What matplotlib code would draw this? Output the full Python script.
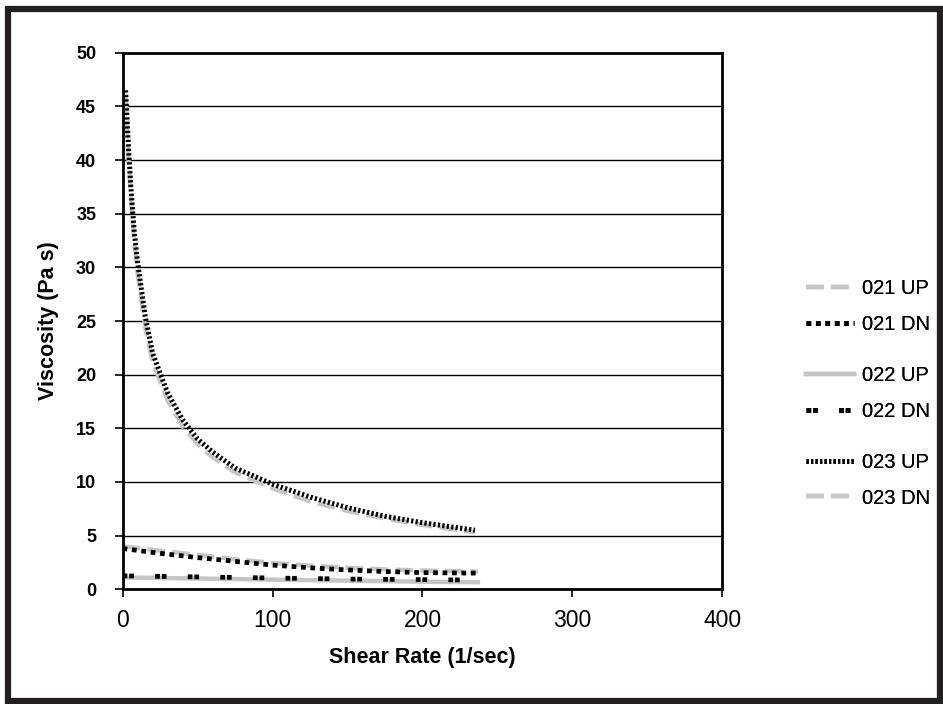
import matplotlib
matplotlib.use("Agg")
import matplotlib.pyplot as plt
from matplotlib.patches import Rectangle

plt.rcParams["font.family"] = ["Liberation Sans", "DejaVu Sans"]

# shear rate (1/sec) and viscosity (Pa s)
x023 = [2, 4, 6, 8, 10, 15, 20, 30, 40, 50, 60, 75, 100, 125, 150, 175, 200, 235]
up023 = [46.5, 41.0, 36.5, 33.0, 30.5, 25.5, 22.0, 18.3, 15.8, 14.0, 12.8, 11.3, 9.8, 8.6, 7.6, 6.8, 6.2, 5.5]
dn023 = [46.0, 40.0, 35.5, 32.0, 29.5, 24.5, 21.2, 17.6, 15.2, 13.5, 12.3, 10.9, 9.4, 8.2, 7.3, 6.6, 6.0, 5.3]

x021 = [0, 25, 50, 75, 100, 125, 150, 175, 200, 237]
up021 = [4.0, 3.6, 3.2, 2.8, 2.45, 2.2, 2.0, 1.85, 1.75, 1.65]
dn021 = [3.8, 3.35, 2.95, 2.6, 2.25, 2.0, 1.8, 1.65, 1.55, 1.5]

x022 = [0, 50, 100, 150, 200, 237]
up022 = [1.1, 1.0, 0.9, 0.8, 0.7, 0.65]
dn022 = [1.25, 1.15, 1.05, 0.95, 0.9, 0.85]

xticks = [0, 100, 200, 300, 400]
yticks = [0, 5, 10, 15, 20, 25, 30, 35, 40, 45, 50]

fig = plt.figure(figsize=(9.43, 7.04), dpi=100)
fig.patch.set_facecolor("white")
ax = fig.add_axes([0.130, 0.163, 0.636, 0.762])

grey = "#c4c7c9"
l21u, = ax.plot(x021, up021, color=grey, lw=3.2, ls=(0, (4, 1.6)))
l21d, = ax.plot(x021, dn021, color="black", lw=3.4, ls=(0, (1, 1)))
l22u, = ax.plot(x022, up022, color=grey, lw=3.2, ls="-")
l22d, = ax.plot(x022, dn022, color="black", lw=3.4, ls=(0, (1, 0.4, 1, 4.5)))
l23d, = ax.plot(x023, dn023, color=grey, lw=3.2, ls=(0, (4, 1.6)))
l23u, = ax.plot(x023, up023, color="black", lw=3.6, ls=(0, (0.45, 0.45)))

ax.set_xlim(0, 400)
ax.set_ylim(0, 50)
ax.set_xticks(xticks)
ax.set_yticks(yticks)
ax.yaxis.grid(True, color="black", lw=1.0)
ax.set_axisbelow(True)
for s in ax.spines.values():
    s.set_linewidth(2.0)
ax.tick_params(axis="y", direction="out", length=6, width=1.2, pad=13, labelsize=13)
ax.tick_params(axis="x", direction="out", length=6, width=1.2, pad=8, labelsize=16.5)
for t in ax.get_yticklabels():
    t.set_fontweight("bold")

ax.set_xlabel("Shear Rate (1/sec)", fontsize=15.5, fontweight="bold", labelpad=11)
ax.set_ylabel("Viscosity (Pa s)", fontsize=15.5, fontweight="bold", labelpad=12)

# three small legends stacked on the right
groups = [((l21u, l21d), ("021 UP", "021 DN"), 0.5646),
          ((l22u, l22d), ("022 UP", "022 DN"), 0.441),
          ((l23u, l23d), ("023 UP", "023 DN"), 0.3175)]
for hs, labs, yc in groups:
    leg = fig.legend(hs, labs, loc="center left", bbox_to_anchor=(0.855, yc), frameon=False,
                     fontsize=14.5, handlelength=2.35, handletextpad=0.4, labelspacing=0.8,
                     borderpad=0, borderaxespad=0)
    fig.add_artist(leg)

fig.patches.append(Rectangle((8 / 943, 3 / 704), 932 / 943, 692 / 704, transform=fig.transFigure,
                             fill=False, edgecolor="#231f20", lw=4.5))

fig.savefig("out.png", dpi=100)
